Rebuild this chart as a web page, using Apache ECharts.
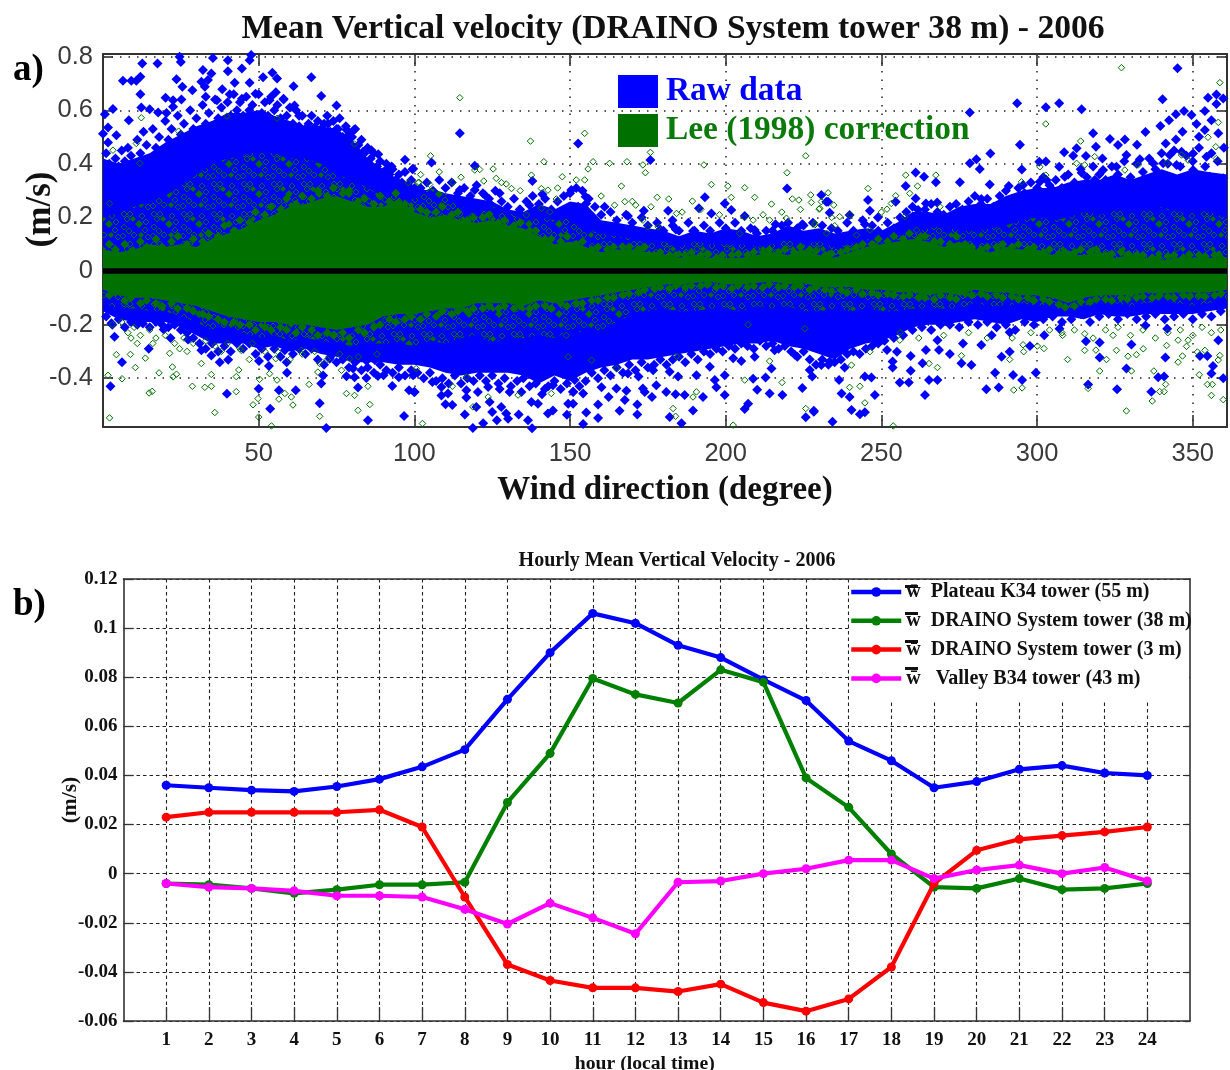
<!DOCTYPE html>
<html><head><meta charset="utf-8">
<style>html,body{margin:0;padding:0;background:#fff}#c{width:1230px;height:1070px}</style>
<script src="https://cdn.jsdelivr.net/npm/echarts@6/dist/echarts.min.js"></script>
</head><body><div id="c"></div>
<script>
// ---- Panel a: dense core envelopes, read every 5 degrees ----
const bandDeg=[0,5,10,15,20,25,30,35,40,45,50,55,60,65,70,75,80,85,90,95,100,105,110,115,120,125,130,135,140,145,150,155,160,165,170,175,180,185,190,195,200,205,210,215,220,225,230,235,240,245,250,255,260,265,270,275,280,285,290,295,300,305,310,315,320,325,330,335,340,345,350,355,361];
const blueTop=[.42,.40,.42,.44,.48,.51,.54,.56,.59,.59,.60,.58,.56,.54,.54,.53,.49,.42,.38,.34,.31,.30,.29,.28,.27,.26,.23,.22,.25,.23,.26,.25,.19,.18,.17,.16,.15,.13,.15,.14,.16,.15,.13,.14,.17,.15,.16,.14,.15,.16,.15,.18,.22,.22,.21,.24,.25,.25,.28,.30,.31,.31,.33,.34,.34,.36,.34,.36,.38,.36,.38,.37,.36];
const mixTop=[.20,.22,.24,.26,.28,.32,.36,.40,.42,.43,.45,.44,.42,.42,.40,.36,.34,.31,.28,.28,.27,.31,.29,.24,.22,.24,.22,.19,.20,.19,.20,.16,.14,.13,.12,.11,.11,.09,.11,.10,.10,.10,.09,.10,.12,.10,.11,.09,.10,.12,.11,.13,.14,.16,.17,.15,.15,.16,.17,.19,.20,.19,.20,.22,.21,.23,.22,.23,.24,.22,.23,.22,.20];
const greenTop=[.08,.07,.08,.10,.09,.10,.09,.12,.14,.16,.19,.21,.24,.25,.27,.28,.26,.24,.24,.27,.22,.20,.21,.19,.18,.19,.17,.16,.13,.10,.11,.09,.07,.08,.08,.07,.06,.05,.06,.05,.05,.05,.06,.07,.06,.08,.06,.05,.07,.09,.10,.11,.12,.11,.09,.11,.08,.07,.09,.08,.08,.06,.06,.06,.07,.05,.06,.05,.04,.05,.05,.05,.05];
const greenBot=[-.07,-.09,-.10,-.10,-.11,-.12,-.13,-.15,-.17,-.18,-.19,-.19,-.20,-.20,-.21,-.22,-.21,-.20,-.17,-.16,-.16,-.15,-.14,-.14,-.12,-.12,-.12,-.13,-.11,-.12,-.11,-.10,-.09,-.08,-.07,-.06,-.05,-.05,-.045,-.04,-.05,-.05,-.045,-.04,-.05,-.045,-.06,-.06,-.06,-.07,-.07,-.08,-.08,-.09,-.08,-.09,-.07,-.08,-.08,-.09,-.09,-.10,-.12,-.10,-.09,-.09,-.09,-.08,-.085,-.08,-.08,-.08,-.07];
const mixBot=[-.12,-.14,-.14,-.15,-.15,-.17,-.19,-.22,-.22,-.23,-.25,-.24,-.26,-.25,-.26,-.27,-.28,-.27,-.27,-.27,-.28,-.26,-.27,-.25,-.24,-.27,-.25,-.25,-.24,-.25,-.22,-.23,-.22,-.19,-.16,-.15,-.14,-.15,-.15,-.14,-.14,-.15,-.13,-.14,-.13,-.15,-.15,-.14,-.15,-.14,-.15,-.15,-.14,-.14,-.14,-.14,-.12,-.13,-.13,-.12,-.13,-.12,-.14,-.13,-.12,-.12,-.13,-.12,-.11,-.12,-.13,-.12,-.11];
const blueBot=[-.15,-.18,-.19,-.19,-.19,-.21,-.24,-.27,-.27,-.27,-.29,-.28,-.3,-.29,-.31,-.32,-.34,-.34,-.34,-.35,-.35,-.36,-.38,-.39,-.38,-.38,-.38,-.39,-.42,-.39,-.41,-.38,-.36,-.35,-.33,-.33,-.32,-.31,-.3,-.29,-.28,-.27,-.27,-.26,-.28,-.29,-.31,-.33,-.29,-.27,-.26,-.24,-.21,-.2,-.2,-.19,-.18,-.19,-.2,-.18,-.19,-.17,-.17,-.18,-.16,-.17,-.17,-.16,-.16,-.16,-.16,-.15,-.14];

// ---- Panel a: individually readable raw-data points [degree, m/s] ----
const rawUpper=[[6.4,.71],[9.1,.71],[10.7,.71],[12,.725],[12.6,.775],[17.5,.775],[24.6,.80],[25,.78],[35.3,.795],[40.1,.787],[40.1,.746],[44.6,.756],[47.6,.806],[47.1,.787],[32.1,.75],[34.8,.737],[23.6,.716],[31.6,.706],[33.7,.713],[32.7,.688],[25.5,.688],[28.7,.675],[38.3,.678],[42.3,.703],[47.1,.703],[51.4,.723],[54.4,.74],[55.9,.719],[61.2,.69],[66.9,.723],[70.1,.653],[75,.618],
[12,.66],[20.1,.647],[22.5,.637],[25.2,.64],[12.3,.61],[15,.604],[3.2,.605],[.6,.585],[17.7,.592],[20.4,.59],[22.5,.613],[8.3,.563],[1.6,.536],[0,.512],[4.3,.507],[1.6,.48],[33,.65],[36.6,.637],[40.7,.66],[44.6,.643],[49,.662],[55.5,.667],[58,.643],[53.5,.637],[61.5,.618],[63,.58],[68,.537],[72.3,.55],[75.5,.53],[78.2,.527],[80.5,.525],[78.6,.482],[83.5,.445],[86.2,.451],[88.4,.436],[97,.415],[91,.378],[92.7,.39],[99.6,.382],
[99.4,.38],[105.5,.405],[114.6,.514],[119.4,.393],[137.9,.336],[141.1,.287],[152.6,.476],[150.4,.302],[175.8,.414],[193.3,.275],[219.7,.308],[230.7,.284],[199.7,.252],[104.9,.284],[100,.296],[114.6,.302],[119.4,.302],[122.6,.284],[127.4,.29],[155,.277],[152.6,.24],[161.1,.24],[173.7,.225],[168.6,.205],[181.5,.225],[191.4,.234],[195.4,.215],[201.8,.228],[206.1,.205],[216,.175],[209.3,.153],[189.5,.149],[179,.155],[224.6,.175],[232.3,.259],[182.9,.19],[184,.155],[149.9,.228],[148.3,.2],[155.2,.252],[137,.246],[133.8,.23],[109.2,.252],[112.4,.265],[104.4,.265],[124.2,.252],
[232.9,.259],[233.4,.218],[239.8,.209],[245.7,.265],[246.3,.225],[244.7,.175],[248.9,.2],[257.8,.317],[261,.368],[263.7,.352],[267.5,.331],[261,.271],[254.6,.259],[264.3,.252],[267.9,.256],[261.8,.228],[275.2,.331],[278.4,.592],[278.4,.402],[280.5,.417],[281.6,.381],[285,.439],[293.6,.626],[294.5,.471],[295.1,.379],[290.9,.317],[284.8,.323],[282.1,.269],[302.8,.611],[307.1,.626],[314.3,.604],[300.7,.408],[302.8,.409],[307.1,.389],[308.7,.443],[312.7,.458],[311.6,.43],[318,.514],[315.7,.429],[318.9,.464],[321,.42],[323.4,.493],[326,.47],[328.2,.491],[328.7,.433],[332.1,.471],[334.8,.519],[333,.417],[339.6,.541],[340.3,.641],[342.4,.563],[344.6,.585],[347.2,.597],[345.1,.757],[344.6,.491],[341.3,.476],[346.7,.52],[349.6,.582],[351.2,.549],[353.9,.597],[354.9,.647],[357.6,.659],[357.6,.623],[359.8,.644],[356,.563],[353.9,.526],[358.2,.514],[352,.501],[350.1,.439],[346.4,.445],[342.6,.433],[337.3,.402],[340.5,.402],[344.8,.396],[354.4,.427],[359.8,.346],[355.5,.352],[350.1,.377],[325.5,.389],[321.2,.377],[314.3,.367],[308.9,.352],[303,.34],[300.9,.333],[295.5,.321],[318.5,.34],[326.6,.333],[334,.34],[339.4,.358],[348,.327],[342.6,.321],[356.6,.302],[312.7,.308],[304.6,.308],[307.8,.308],[331.4,.277],[321.2,.302]];
const rawLower=[[2.4,-.43],[6.1,-.34],[3.7,-.245],[14.7,-.29],[19.5,-.218],[21.7,-.25],[27.3,-.255],[31.6,-.296],[34.8,-.315],[37.5,-.34],[40.2,-.331],[39.8,-.458],[50.1,-.336],[50,-.439],[53.3,-.354],[56.5,-.445],[53.7,-.514],[61.9,-.445],[59.1,-.38],[69.6,-.493],[71.7,-.586],[70.1,-.42],[70.7,-.39],[72.8,-.327],[78.2,-.393],[80.3,-.364],[80.8,-.396],[81.9,-.435],[84.6,-.335],[87.3,-.332],[84.6,-.399],[85.1,-.557],[88.3,-.392],[90.1,-.389],[92.9,-.429],[95,-.396],[96.7,-.541],[98.3,-.445],[99.9,-.451],[99.6,-.389],[79.2,-.296],[77.1,-.277],[70.1,-.271],[58.4,-.265],[58.4,-.296],[50.3,-.234],[34.3,-.215],[12.8,-.196],[6.4,-.158],[2.7,-.195],
[100.1,-.451],[105.8,-.414],[108.7,-.433],[108.7,-.464],[110.8,-.457],[110,-.497],[112.2,-.5],[116.2,-.535],[118.8,-.586],[116.7,-.445],[116.7,-.472],[120.4,-.451],[119.9,-.507],[122.1,-.568],[123.7,-.433],[124.2,-.489],[126.5,-.557],[125,-.526],[127.9,-.507],[129.5,-.532],[130.1,-.551],[133.5,-.535],[127.4,-.44],[130.6,-.451],[134.4,-.451],[136.5,-.557],[137.8,-.587],[137.6,-.489],[139.7,-.495],[142.9,-.532],[144.5,-.52],[141.9,-.44],[144.5,-.426],[149.4,-.495],[151,-.495],[149,-.536],[151.5,-.407],[151,-.451],[154.2,-.457],[155.2,-.528],[154.2,-.571],[159,-.498],[159,-.548],[162.4,-.47],[160.1,-.434],[165.9,-.521],[167.6,-.481],[164.9,-.438],[171.6,-.498],[171.6,-.535],[168.6,-.382],[168.1,-.447],[172,-.394],[174,-.451],[176.3,-.47],[177.7,-.426],[173.4,-.438],[182,-.545],[185.8,-.568],[180.9,-.451],[184.7,-.394],[183.9,-.46],[186.8,-.463],[189.5,-.52],[192.7,-.47],[196.5,-.407],[197,-.434],[199.7,-.463],[199.7,-.389],[202.4,-.325],[205,-.336],[208.8,-.402],[210.1,-.443],[214.1,-.457],[218.2,-.463],[207.2,-.495],[206.1,-.515],[212.8,-.397],[214.7,-.364],[224.6,-.436],[225.7,-.546],[228.3,-.521],[227.8,-.394],[227,-.369],[222.2,-.312],[215.7,-.296],[209.3,-.32],[194.9,-.357],[190.6,-.389],[182,-.376],[176.7,-.37],
[228.3,-.525],[234.3,-.562],[237.2,-.457],[239.8,-.47],[240.4,-.519],[243.1,-.534],[244.7,-.527],[247.9,-.463],[236.4,-.407],[244.7,-.394],[246.8,-.397],[238.2,-.36],[230.7,-.351],[233.4,-.338],[255.9,-.416],[258.8,-.416],[265.3,-.407],[268,-.407],[264,-.463],[259.4,-.372],[263.2,-.344],[253.6,-.338],[253.6,-.36],[255,-.301],[251.8,-.295],[248.9,-.268],[259.4,-.317],[264.3,-.295],[268.5,-.295],[268,-.258],[272,-.31],[275.7,-.344],[278.9,-.351],[283.7,-.441],[287.7,-.435],[286.5,-.38],[292.3,-.388],[295.2,-.407],[288.6,-.32],[291.2,-.301],[282.1,-.276],[276.2,-.27],[299.6,-.38],[297.7,-.28],[302.3,-.24],[316.4,-.423],[325.7,-.441],[328.7,-.364],[320.1,-.267],[320.1,-.323],[315.7,-.262],[330.3,-.274],[336.7,-.45],[338.9,-.396],[340.8,-.394],[341.2,-.323],[352.3,-.317],[354.7,-.317],[356,-.382],[356.5,-.354],[359.8,-.4],[358.2,-.258],[341.8,-.215],[334.8,-.203],[307.2,-.215],[291.2,-.228],[285.4,-.24]];
const rawFringeUp=[[1,.44],[2,.40],[3,.37],[4,.42],[5,.39],[6,.45],[7,.41],[8,.46],[9,.43],[10,.40],[11,.49],[12,.44],[13,.52],[14,.47],[15,.42],[16,.53],[17,.46],[18,.50],[19,.44],[20,.56],[21,.49],[22,.53],[23,.47],[24,.58],[25,.51],[26,.55],[27,.49],[28,.60],[29,.53],[30,.57],[31,.51],[32,.62],[33,.55],[34,.59],[35,.54],[36,.64],[37,.57],[38,.61],[39,.56],[40,.63],[41,.58],[42,.66],[43,.60],[44,.63],[45,.58],[46,.65],[47,.60],[48,.62],[49,.57],[50,.66],[51,.59],[52,.63],[53,.58],[54,.65],[55,.60],[56,.62],[57,.57],[58,.64],[59,.58],[60,.61],[61,.55],[62,.60],[63,.54],[64,.58],[65,.53],[66,.55],[67,.58],[68,.52],[69,.56],[70,.53],[71,.55],[72,.58],[73,.52],[74,.56],[75,.53],[76,.57],[77,.50],[78,.54],[79,.51],[80,.50],[81,.53],[82,.47],[83,.49],[84,.44],[85,.46],[86,.42],[87,.44],[88,.39],[89,.41],[90,.37],[91,.40],[92,.36],[93,.38],[94,.34],[95,.36],[96,.33],[97,.37],[98,.32],[99,.34],[100,.31],
[102,.31],[104,.33],[106,.30],[108,.34],[110,.31],[112,.33],[114,.29],[116,.31],[118,.28],[120,.32],[122,.29],[124,.27],[126,.30],[128,.26],[130,.24],[132,.27],[134,.23],[136,.26],[138,.28],[140,.25],[142,.27],[144,.23],[146,.26],[148,.28],[150,.29],[152,.31],[154,.30],[156,.27],[158,.24],[160,.21],[163,.22],[165,.19],[168,.21],[170,.18],[173,.20],[175,.17],[178,.18],[180,.15],[183,.17],[185,.15],[188,.18],[190,.15],[193,.17],[195,.15],[198,.18],[200,.16],[203,.18],[205,.15],[208,.16],[210,.14],[213,.15],[215,.15],[218,.17],[220,.18],[223,.16],[225,.17],[228,.18],
[231,.17],[234,.16],[236,.15],[239,.18],[241,.15],[244,.19],[247,.17],[249,.15],[252,.18],[254,.16],[256,.20],[258,.22],[260,.24],[262,.21],[264,.23],[266,.25],[268,.22],[270,.21],[272,.24],[274,.25],[276,.23],[278,.26],[280,.28],[282,.25],[284,.27],[286,.24],[288,.28],[290,.30],[292,.27],[294,.31],[296,.29],[298,.33],[300,.31],[302,.35],[304,.32],[306,.34],[308,.31],[310,.36],[312,.33],[314,.38],[316,.35],[318,.39],[320,.36],[322,.34],[324,.39],[326,.36],[328,.41],[330,.35],[332,.40],[334,.37],[336,.42],[338,.38],[340,.44],[342,.40],[344,.45],[346,.39],[348,.43],[350,.41],[352,.46],[354,.39],[356,.44],[358,.41],[360,.46]];
const rawFringeLow=[[1,-.17],[3,-.2],[5,-.18],[7,-.21],[9,-.19],[11,-.2],[13,-.18],[15,-.21],[17,-.19],[19,-.2],[21,-.21],[23,-.2],[25,-.22],[27,-.23],[29,-.25],[31,-.27],[33,-.29],[35,-.27],[37,-.3],[39,-.28],[41,-.3],[43,-.27],[45,-.29],[47,-.27],[49,-.31],[51,-.29],[53,-.32],[55,-.29],[57,-.32],[59,-.34],[61,-.31],[63,-.29],[65,-.31],[67,-.29],[69,-.33],[71,-.35],[73,-.32],[75,-.34],[77,-.33],[79,-.36],[81,-.34],[83,-.37],[85,-.36],[87,-.38],[89,-.35],[91,-.37],[93,-.38],[95,-.36],[97,-.39],[99,-.37],[101,-.38],[103,-.4],[105,-.38],[107,-.41],[109,-.4],[111,-.42],[113,-.39],[115,-.42],[117,-.4],[119,-.41],[121,-.39],[123,-.41],[125,-.39],[127,-.42],[129,-.4],[131,-.43],[133,-.41],[135,-.4],[137,-.43],[139,-.42],[141,-.46],[143,-.43],[145,-.41],[147,-.44],[149,-.42],[151,-.45],[153,-.43],[155,-.41],[157,-.38],[159,-.4],[161,-.37],[163,-.39],[165,-.36],[167,-.38],[169,-.35],[171,-.37],[173,-.34],[175,-.36],[177,-.35],[179,-.33],[181,-.35],[183,-.33],[185,-.32],[187,-.34],[189,-.31],[191,-.33],[193,-.3],[195,-.31],[197,-.29],[199,-.3],[201,-.28],[203,-.29],[205,-.27],[207,-.28],[209,-.29],[211,-.26],[213,-.28],[215,-.27],[217,-.29],[219,-.28],[221,-.3],[223,-.32],[225,-.3],[227,-.33],[229,-.35],[231,-.33],[233,-.35],[235,-.34],[237,-.33],[239,-.31],[241,-.3],[243,-.31],[245,-.29],[247,-.28],[249,-.27],[251,-.26],[254,-.25],[257,-.24],[260,-.22],[263,-.21],[266,-.22],[269,-.2],[272,-.2],[275,-.21],[278,-.19],[281,-.2],[284,-.19],[287,-.21],[290,-.2],[293,-.22],[296,-.19],[299,-.2],[302,-.18],[305,-.17],[308,-.19],[311,-.18],[314,-.16],[317,-.19],[320,-.17],[323,-.16],[326,-.18],[329,-.16],[332,-.18],[335,-.17],[338,-.16],[341,-.18],[344,-.17],[347,-.16],[350,-.18],[353,-.16],[356,-.17],[359,-.15]];

// ---- Panel a: individually readable corrected points [degree, m/s] ----
const leeUpper=[[3.2,.451],[2.1,.252],[12.3,.572],[24.3,.522],[39.8,.578],[55.9,.57],[80.8,.474],[101.2,.33],[10.7,.476],[11.8,.402],
[114.6,.647],[137.3,.485],[154.7,.514],[175.8,.443],[141.6,.408],[105.2,.43],[119.4,.377],[125.3,.381],[121,.379],[157.4,.408],[162.7,.402],[168.3,.408],[173.4,.396],[155.8,.381],[174.2,.367],[225.7,.43],[219.7,.367],[193,.396],[147.5,.352],[137.6,.358],[126.3,.346],[122.3,.336],[112.4,.331],[104.9,.323],[101.5,.331],[129.5,.325],[152,.34],[154.7,.34],[166.5,.317],[195.4,.323],[200.7,.317],[206.1,.311],[178,.275],[181.7,.269],[189.3,.261],[201.8,.275],[209.3,.275],[214.7,.25],[221.4,.269],[223.5,.265],[227.3,.284],[227.5,.256],[230.2,.234],[167.6,.259],[164.3,.246],[171.1,.246],[145.6,.269],[142.9,.302],[140.8,.308],[131.2,.308],[140.8,.234],[136,.209],[143.5,.221],[184.2,.215],[208.8,.19],[214.1,.19],[219.5,.197],[228.6,.178],[173.4,.19],[175,.165],[178.3,.165],[204.5,.14],
[327.1,.759],[358.7,.703],[302.8,.549],[314,.485],[318.5,.427],[312.7,.402],[315.3,.396],[300.9,.389],[302.8,.358],[295,.333],[328.2,.377],[332.5,.396],[341.6,.402],[346.4,.433],[348.5,.414],[354.9,.499],[357.4,.464],[358.2,.555],[357.6,.42],[257.8,.358],[267.5,.358],[261.6,.317],[245.7,.308],[254.6,.281],[253.2,.252],[251.8,.231],[232.9,.292],[230.7,.259],[234.7,.246],[230,.231],[236.6,.203],[235,.169],[228.6,.172],[232.4,.141],[242,.134],[246.3,.153],[257.5,.203],[261.3,.153],[268.8,.24],[259.1,.29],
[98,.33],[102,.36],[108,.37],[115,.35],[128,.33],[134,.3],[146,.31],[160,.28],[170,.26],[176,.24],[186,.22],[192,.23],[198,.21],[206,.2],[212,.21],[218,.22],[224,.23],[234,.2],[240,.21],[250,.22]];
const leeLower=[[2.1,-.548],[1.6,-.389],[6.1,-.402],[4.3,-.312],[8.8,-.311],[13.6,-.325],[10.4,-.36],[14.8,-.455],[15.8,-.449],[18,-.38],[22.3,-.358],[22.5,-.395],[23.6,-.385],[28.7,-.43],[32.7,-.434],[34.8,-.43],[34.8,-.386],[31.6,-.345],[35.9,-.528],[42.8,-.45],[42.8,-.394],[43.6,-.369],[48.2,-.499],[49.8,-.476],[50,-.545],[50.3,-.404],[53.5,-.383],[55.5,-.327],[56.5,-.478],[58.4,-.457],[60.5,-.47],[61,-.5],[55.9,-.407],[66.2,-.423],[69.6,-.542],[69,-.377],[78.2,-.457],[80.8,-.464],[81.9,-.52],[85.7,-.498],[85.1,-.43],[76.6,-.37],[79.2,-.327],[69.6,-.345],[63.7,-.296],[44.4,-.296],[24.6,-.29],[21.4,-.307],[54.1,-.578],[9,-.25],[11,-.27],[16,-.27],[27,-.3],[38,-.3],[47,-.33],
[102.6,-.569],[112.2,-.43],[133.3,-.463],[123.7,-.47],[118.8,-.507],[144,-.457],[149.4,-.32],[164.9,-.364],[156.9,-.333],[183.1,-.513],[183.9,-.542],[202.4,-.575],[189.5,-.47],[190.6,-.451],[206.1,-.407],[214.1,-.336],[218.1,-.416],[225.7,-.513],[207.2,-.2],[225.4,-.215],[184.2,-.318],[148.8,-.24],[100.6,-.364],[116.7,-.395],
[253.8,-.578],[239.8,-.434],[243.1,-.43],[244.7,-.492],[240.4,-.351],[255.9,-.258],[246.3,-.301],[268,-.36],[265.3,-.345],[275.7,-.316],[295.5,-.275],[295.7,-.301],[302.2,-.289],[300.1,-.28],[291.2,-.33],[295.2,-.436],[292.5,-.444],[309.8,-.33],[315.3,-.296],[318.9,-.295],[322.3,-.33],[320.1,-.373],[316.4,-.438],[328.7,-.522],[330.3,-.373],[325.5,-.296],[329.2,-.318],[331.9,-.312],[334.1,-.29],[337.5,-.373],[337,-.485],[339.4,-.45],[340.8,-.45],[341.3,-.423],[341.6,-.278],[345.3,-.34],[346.7,-.317],[352.1,-.387],[351.5,-.302],[353.9,-.296],[354.7,-.423],[356.3,-.423],[356,-.464],[359.8,-.48],[358.2,-.332],[358.7,-.315],[324.4,-.24],[315.3,-.234],[308.2,-.24],[345.3,-.258],[348,-.281],[348.5,-.258],
[3,-.2],[6,-.19],[8,-.23],[10,-.21],[12,-.24],[15,-.22],[17,-.25],[20,-.24],[23,-.27],[26,-.25],[29,-.27],[33,-.26],[36,-.28],[40,-.27],[44,-.29],[48,-.27],[52,-.3],[56,-.3],[60,-.33],[64,-.31],[68,-.3],[72,-.33],[76,-.31],[82,-.32],[88,-.31],[256,-.23],[262,-.25],[270,-.24],[278,-.23],[284,-.25],[292,-.25],[298,-.23],[304,-.22],[308,-.23],[312,-.22],[318,-.25],[322,-.22],[326,-.21],[330,-.24],[334,-.22],[338,-.25],[342,-.23],[346,-.22],[350,-.24],[353,-.21],[356,-.23],[359,-.22]];
const leeEdgeTop=[[2,.1],[4,.08],[7,.1],[9,.07],[12,.11],[14,.09],[17,.12],[19,.09],[22,.11],[24,.13],[27,.1],[29,.12],[32,.11],[34,.14],[37,.13],[39,.17],[42,.15],[44,.19],[47,.18],[49,.22],[52,.21],[54,.24],[57,.23],[59,.27],[62,.25],[64,.28],[67,.27],[69,.3],[72,.28],[74,.31],[77,.29],[79,.3],[82,.26],[84,.27],[87,.25],[89,.28],[92,.26],[94,.29],[97,.25],[99,.23],[102,.23],[104,.22],[107,.22],[109,.24],[112,.21],[114,.22],[117,.19],[119,.2],[122,.2],[124,.21],[127,.18],[129,.19],[132,.17],[134,.18],[137,.15],[139,.15],[142,.12],[144,.12],[147,.11],[149,.13],[152,.1],[154,.11],[157,.08],[159,.09],[162,.08],[164,.09],[167,.09],[169,.09],[172,.08],[174,.09],[177,.06],[179,.07],[182,.06],[184,.06],[187,.06],[189,.07],[192,.06],[194,.065],[197,.05],[199,.06],[202,.06],[204,.065],[207,.06],[209,.07],[212,.07],[214,.08],[217,.07],[219,.08],[222,.07],[224,.09],[227,.08],[229,.075],[232,.06],[234,.065],[237,.07],[239,.08],[242,.09],[244,.1],[247,.1],[249,.12],[252,.11],[254,.13],[257,.12],[259,.14],[262,.12],[264,.13],[267,.11],[269,.11],[272,.1],[274,.13],[277,.1],[279,.09],[282,.08],[284,.09],[287,.09],[289,.1],[292,.09],[294,.1],[297,.08],[299,.09],[302,.07],[304,.08],[307,.065],[309,.07],[312,.07],[314,.08],[317,.07],[319,.08],[322,.06],[324,.065],[327,.07],[329,.06],[332,.06],[334,.06],[337,.05],[339,.05],[342,.055],[344,.06],[347,.05],[349,.06],[352,.06],[354,.055],[357,.06],[359,.05]];
const leeEdgeLow=[[2,-.09],[4,-.08],[7,-.11],[9,-.1],[12,-.12],[14,-.11],[17,-.12],[19,-.13],[22,-.12],[24,-.14],[27,-.14],[29,-.15],[32,-.16],[34,-.17],[37,-.18],[39,-.19],[42,-.19],[44,-.2],[47,-.2],[49,-.22],[52,-.21],[54,-.22],[57,-.21],[59,-.22],[62,-.23],[64,-.21],[67,-.22],[69,-.24],[72,-.23],[74,-.24],[77,-.23],[79,-.25],[82,-.22],[84,-.23],[87,-.21],[89,-.2],[92,-.18],[94,-.19],[97,-.18],[99,-.17],[102,-.18],[104,-.16],[107,-.17],[109,-.15],[112,-.16],[114,-.15],[117,-.15],[119,-.14],[122,-.14],[124,-.13],[127,-.14],[129,-.13],[132,-.14],[134,-.13],[137,-.14],[139,-.13],[142,-.13],[144,-.14],[147,-.12],[149,-.13],[152,-.12],[154,-.12],[157,-.11],[159,-.11],[162,-.1],[164,-.1],[167,-.09],[169,-.085],[172,-.08],[174,-.07],[177,-.065],[179,-.06],[182,-.065],[184,-.055],[187,-.06],[189,-.055],[192,-.055],[194,-.05],[197,-.06],[199,-.055],[202,-.065],[204,-.055],[207,-.06],[209,-.055],[212,-.06],[214,-.05],[217,-.06],[219,-.055],[222,-.06],[224,-.055],[227,-.07],[229,-.06],[232,-.07],[234,-.075],[237,-.07],[239,-.08],[242,-.07],[244,-.085],[247,-.08],[249,-.09],[252,-.085],[254,-.09],[257,-.095],[259,-.09],[262,-.1],[264,-.1],[267,-.105],[269,-.09],[272,-.1],[274,-.105],[277,-.085],[279,-.09],[282,-.085],[284,-.095],[287,-.09],[289,-.1],[292,-.095],[294,-.105],[297,-.1],[299,-.11],[302,-.105],[304,-.115],[307,-.125],[309,-.135],[312,-.13],[314,-.115],[317,-.115],[319,-.105],[322,-.105],[324,-.11],[327,-.1],[329,-.105],[332,-.1],[334,-.095],[337,-.1],[339,-.095],[342,-.095],[344,-.1],[347,-.09],[349,-.095],[352,-.09],[354,-.095],[357,-.09],[359,-.085]];
const zeroLine=[[0,0],[361,0]];
const aYTicks=[-0.4,-0.2,0,0.2,0.4,0.6,0.8];
const aXTicks=[50,100,150,200,250,300,350];

// ---- Panel b ----
const hours=[1,2,3,4,5,6,7,8,9,10,11,12,13,14,15,16,17,18,19,20,21,22,23,24];
const k34=[.036,.035,.034,.0335,.0355,.0385,.0435,.0505,.071,.09,.106,.102,.093,.088,.079,.0705,.054,.046,.035,.0375,.0425,.044,.041,.04];
const draino38=[-.004,-.0045,-.006,-.008,-.0065,-.0045,-.0045,-.0035,.029,.049,.0795,.073,.0695,.083,.078,.039,.027,.008,-.0055,-.006,-.002,-.0065,-.006,-.004];
const draino3=[.023,.025,.025,.025,.025,.026,.019,-.0095,-.037,-.0435,-.0465,-.0465,-.048,-.045,-.0525,-.056,-.051,-.038,-.004,.0095,.014,.0155,.017,.019];
const b34=[-.004,-.0055,-.006,-.007,-.009,-.009,-.0095,-.0145,-.0205,-.012,-.018,-.0245,-.0035,-.003,0,.002,.0055,.0055,-.002,.0015,.0035,0,.0025,-.003];

const BLUE='#0000ff', GREEN='#007000';
const SERIF='"Liberation Serif","Times New Roman",serif', SANS='"Liberation Sans",Arial,sans-serif';

// texture where hollow green diamonds pile up on the blue ones
function lattice(){
  const c=document.createElement('canvas');c.width=30;c.height=30;
  const g=c.getContext('2d');g.fillStyle=BLUE;g.fillRect(0,0,30,30);
  const d=(x,y,r,solid)=>{g.beginPath();g.moveTo(x,y-r);g.lineTo(x+r,y);g.lineTo(x,y+r);g.lineTo(x-r,y);g.closePath();
    if(solid){g.fillStyle=GREEN;g.fill();}else{g.strokeStyle=GREEN;g.lineWidth=1;g.stroke();}};
  d(4,4,3);d(10,4,3);d(7,9,3);d(13,9,3,true);d(22,6,3);d(26,12,3);d(19,14,4,true);d(4,17,3);d(9,21,3);d(14,25,3);d(25,20,3);d(21,25,3,true);d(3,26,3);d(28,27,3);
  return c;
}
const hatch={image:lattice(),repeat:'repeat'};
const zip=a=>bandDeg.map((d,i)=>[d,a[i]]);
function band(name,a,fill,z){
  return {name,type:'line',xAxisIndex:0,yAxisIndex:0,data:zip(a),symbol:'none',silent:true,z,
    lineStyle:{width:0},areaStyle:{color:fill,opacity:1}};
}
const tickA={show:true,inside:true,length:12,lineStyle:{color:'#333',width:1.6}};
const tickAy={show:true,inside:true,length:10,lineStyle:{color:'#333',width:1.6}};
const lineA={show:true,onZero:false,lineStyle:{color:'#333',width:2}};
const dotted={show:true,lineStyle:{color:'#222',width:1.5,type:[1.5,7]}};
const dashed={show:true,lineStyle:{color:'#222',width:1.1,type:[3.5,3]}};
const lineB={show:true,onZero:false,lineStyle:{color:'#333',width:1.6}};
function towerLine(name,data,color,z){
  return {name,type:'line',xAxisIndex:2,yAxisIndex:2,data:hours.map((h,i)=>[h,data[i]]),
    color,z,symbol:'circle',symbolSize:9,showSymbol:true,lineStyle:{width:4.2,color},itemStyle:{color}};
}
const OV='w\u0304';
const names=[OV+'  Plateau K34 tower (55 m)',OV+'  DRAINO System tower (38 m)',OV+'  DRAINO System tower (3 m)',OV+'   Valley B34 tower (43 m)'];
const overbar=y=>({type:'rect',z:10,silent:true,shape:{x:905,y,width:13,height:3},style:{fill:'#111'}});

const option={
  backgroundColor:'#fff',animation:false,
  title:[
    {text:'Mean Vertical velocity (DRAINO System tower 38 m) - 2006',left:668,top:7,textAlign:'center',textStyle:{fontFamily:SERIF,fontSize:33.6,fontWeight:'bold',color:'#111'}},
    {text:'a)',left:8,top:47,textStyle:{fontFamily:SERIF,fontSize:37,fontWeight:'bold',color:'#000'}},
    {text:'b)',left:8,top:582,textStyle:{fontFamily:SERIF,fontSize:37,fontWeight:'bold',color:'#000'}},
    {text:'Hourly Mean Vertical Velocity - 2006',left:672,top:546,textAlign:'center',textStyle:{fontFamily:SERIF,fontSize:20,fontWeight:'bold',color:'#111'}}
  ],
  grid:[
    {left:103,top:54,width:1124,height:373,show:false,outerBoundsMode:'none'},
    {left:123.5,top:579,width:1066.5,height:442,show:false,outerBoundsMode:'none'}
  ],
  xAxis:[
    {type:'value',gridIndex:0,min:0,max:361,position:'bottom',axisLine:lineA,
     axisTick:{...tickA,customValues:aXTicks},splitLine:dotted,
     axisLabel:{customValues:aXTicks,fontFamily:SANS,fontSize:25.5,color:'#3a3a3a',margin:14},
     name:'Wind direction (degree)',nameLocation:'middle',nameGap:47,nameMoveOverlap:false,nameTextStyle:{fontFamily:SERIF,fontSize:33,fontWeight:'bold',color:'#111'}},
    {type:'value',gridIndex:0,min:0,max:361,position:'top',axisLine:lineA,axisTick:{...tickA,customValues:aXTicks},splitLine:{show:false},axisLabel:{show:false}},
    {type:'value',gridIndex:1,min:0,max:25,position:'bottom',axisLine:lineB,
     axisTick:{show:true,inside:true,length:14,customValues:hours,lineStyle:{color:'#333',width:1.3}},splitLine:dashed,
     axisLabel:{customValues:hours,fontFamily:SERIF,fontSize:19,fontWeight:'bold',color:'#111',margin:10},
     name:'hour (local time)',nameLocation:'middle',nameGap:33,nameMoveOverlap:false,nameTextStyle:{fontFamily:SERIF,fontSize:19.7,fontWeight:'bold',color:'#111',padding:[0,24,0,0]}},
    {type:'value',gridIndex:1,min:0,max:25,position:'top',axisLine:lineB,axisTick:{show:false},splitLine:{show:false},axisLabel:{show:false}}
  ],
  yAxis:[
    {type:'value',gridIndex:0,min:-0.582,max:0.81,position:'left',axisLine:lineA,
     axisTick:{...tickAy,customValues:aYTicks},splitLine:dotted,
     axisLabel:{customValues:aYTicks,fontFamily:SANS,fontSize:25.5,color:'#3a3a3a',margin:10},
     name:'(m/s)',nameLocation:'middle',nameGap:45,nameRotate:90,nameMoveOverlap:false,nameTextStyle:{fontFamily:SERIF,fontSize:35,fontWeight:'bold',color:'#111',padding:[0,0,0,62]}},
    {type:'value',gridIndex:0,min:-0.582,max:0.81,position:'right',axisLine:lineA,axisTick:{...tickAy,customValues:aYTicks},splitLine:{show:false},axisLabel:{show:false}},
    {type:'value',gridIndex:1,min:-0.06,max:0.12,interval:0.02,position:'left',axisLine:lineB,
     axisTick:{show:true,inside:true,length:10,lineStyle:{color:'#333',width:1.3}},splitLine:dashed,
     axisLabel:{fontFamily:SERIF,fontSize:19,fontWeight:'bold',color:'#111',margin:6},
     name:'(m/s)',nameLocation:'middle',nameGap:42,nameRotate:90,nameMoveOverlap:false,nameTextStyle:{fontFamily:SERIF,fontSize:21.5,fontWeight:'bold',color:'#111'}},
    {type:'value',gridIndex:1,min:-0.06,max:0.12,interval:0.02,position:'right',axisLine:lineB,
     axisTick:{show:true,inside:true,length:5,lineStyle:{color:'#333',width:1.3}},splitLine:{show:false},axisLabel:{show:false}}
  ],
  legend:[
    {left:618,top:75,padding:0,orient:'vertical',itemWidth:40,itemHeight:33,itemGap:6,selectedMode:false,
     data:[
      {name:'Raw data',icon:'rect',itemStyle:{color:BLUE,borderWidth:0,opacity:1},textStyle:{color:BLUE}},
      {name:'Lee (1998) correction',icon:'rect',itemStyle:{color:GREEN,borderWidth:0,opacity:1},textStyle:{color:'#0a7a0a'}}
     ],
     textStyle:{fontFamily:SERIF,fontSize:33.4,fontWeight:'bold',padding:[0,0,0,3]}},
    {left:849,top:582,padding:0,orient:'vertical',itemWidth:50,itemHeight:12,itemGap:8.8,selectedMode:false,
     lineStyle:{width:4.5},
     data:names.map(n=>({name:n})),
     textStyle:{fontFamily:SERIF,fontSize:20,fontWeight:'bold',color:'#111'}}
  ],
  graphic:[
    {type:'rect',z:1,silent:true,shape:{x:849,y:580,width:340,height:120},style:{fill:'#fff'}},
    overbar(585),overbar(612),overbar(640),overbar(667)
  ],
  series:[
    band('blue upper core',blueTop,BLUE,2),
    band('blue lower core',blueBot,BLUE,2),
    {name:'Raw data',type:'scatter',xAxisIndex:0,yAxisIndex:0,data:rawUpper.concat(rawLower,rawFringeUp,rawFringeLow),symbol:'diamond',symbolSize:10,clip:false,z:3,itemStyle:{color:BLUE,opacity:1}},
    band('mixed upper',mixTop,hatch,4),
    band('mixed lower',mixBot,hatch,4),
    {name:'Lee (1998) correction',type:'scatter',xAxisIndex:0,yAxisIndex:0,data:leeUpper.concat(leeLower),symbol:'diamond',symbolSize:6.5,clip:false,z:5,itemStyle:{color:'rgba(255,255,255,0)',borderColor:GREEN,borderWidth:1,opacity:1}},
    {name:'Lee dense edge',type:'scatter',xAxisIndex:0,yAxisIndex:0,data:leeEdgeTop.concat(leeEdgeLow),symbol:'diamond',symbolSize:9,z:5,silent:true,itemStyle:{color:GREEN,opacity:1}},
    band('green upper core',greenTop,GREEN,6),
    band('green lower core',greenBot,GREEN,6),
    {name:'zero',type:'line',xAxisIndex:0,yAxisIndex:0,data:zeroLine,symbol:'none',silent:true,z:7,lineStyle:{color:'#000',width:5.5}},
    towerLine(names[0],k34,BLUE,3),
    towerLine(names[1],draino38,'#008000',3),
    towerLine(names[2],draino3,'#ff0000',4),
    towerLine(names[3],b34,'#ff00ff',5)
  ]
};
const chart=echarts.init(document.getElementById('c'),null,{renderer:'canvas',width:1230,height:1070});
chart.setOption(option);
</script></body></html>
